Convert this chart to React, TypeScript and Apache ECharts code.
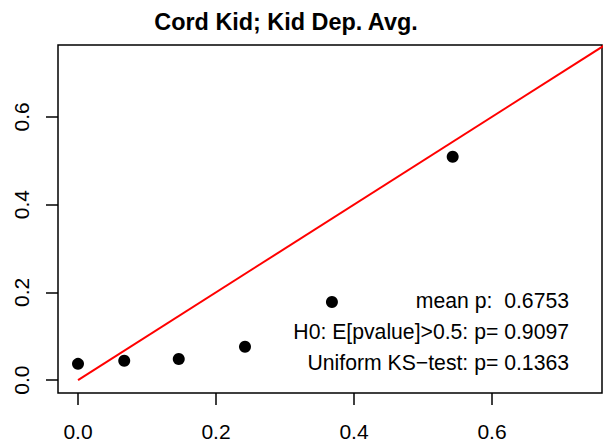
import React, { useEffect, useRef } from "react";
import * as echarts from "echarts";

const xVals = [0.0, 0.067, 0.146, 0.242, 0.368, 0.543];
const yVals = [0.037, 0.044, 0.048, 0.076, 0.178, 0.509];
const refLine = [[0, 0], [1, 1]];
const tickValues = [0, 0.2, 0.4, 0.6];
const titleText = "Cord Kid; Kid Dep. Avg.";
const noteLines = ["mean p:  0.6753", "H0: E[pvalue]>0.5: p= 0.9097", "Uniform KS\u2212test: p= 0.1363"];

const FONT = "'Liberation Sans', Arial, Helvetica, sans-serif";

export default function App() {
  const ref = useRef<HTMLDivElement>(null);
  useEffect(() => {
    if (!ref.current) return;
    const chart = echarts.init(ref.current, null, { renderer: "svg" });
    const fmt = (v: number) => v.toFixed(1);
    chart.setOption({
      animation: false,
      backgroundColor: "#ffffff",
      grid: {
        left: 58, top: 45, right: 1, bottom: 51,
        show: true, borderColor: "#000000", borderWidth: 1.5, backgroundColor: "transparent",
      },
      xAxis: {
        type: "value", min: -0.029, max: 0.7594,
        axisLine: { show: false, onZero: false },
        splitLine: { show: false },
        axisTick: { show: true, length: 12, customValues: tickValues, lineStyle: { color: "#000", width: 1.5 } },
        axisLabel: {
          customValues: tickValues, formatter: fmt, margin: 28,
          fontSize: 21, fontFamily: FONT, color: "#000",
        },
      },
      yAxis: {
        type: "value", min: -0.0294, max: 0.7637,
        axisLine: { show: false, onZero: false },
        splitLine: { show: false },
        axisTick: { show: true, length: 12, customValues: tickValues, lineStyle: { color: "#000", width: 1.5 } },
        axisLabel: {
          customValues: tickValues, formatter: fmt, margin: 26, rotate: 90,
          fontSize: 21, fontFamily: FONT, color: "#000",
        },
      },
      series: [
        {
          type: "line", data: refLine, symbol: "none", clip: true,
          lineStyle: { color: "#ff0000", width: 2 }, silent: true,
        },
        {
          type: "scatter", data: xVals.map((x, i) => [x, yVals[i]]),
          symbol: "circle", symbolSize: 12, itemStyle: { color: "#000000", opacity: 1 },
        },
      ],
      graphic: [
        {
          type: "text", x: 286, y: 22,
          style: { text: titleText, font: `bold 23.4px ${FONT}`, fill: "#000", align: "center", verticalAlign: "middle" },
        },
        ...noteLines.map((t, i) => ({
          type: "text", x: 569, y: 300 + i * 31,
          style: { text: t, font: `21.2px ${FONT}`, fill: "#000", align: "right", verticalAlign: "middle" },
        })),
      ],
    });
    return () => chart.dispose();
  }, []);
  return <div ref={ref} style={{ width: 603, height: 444, position: "absolute", left: 0, top: 0 }} />;
}
